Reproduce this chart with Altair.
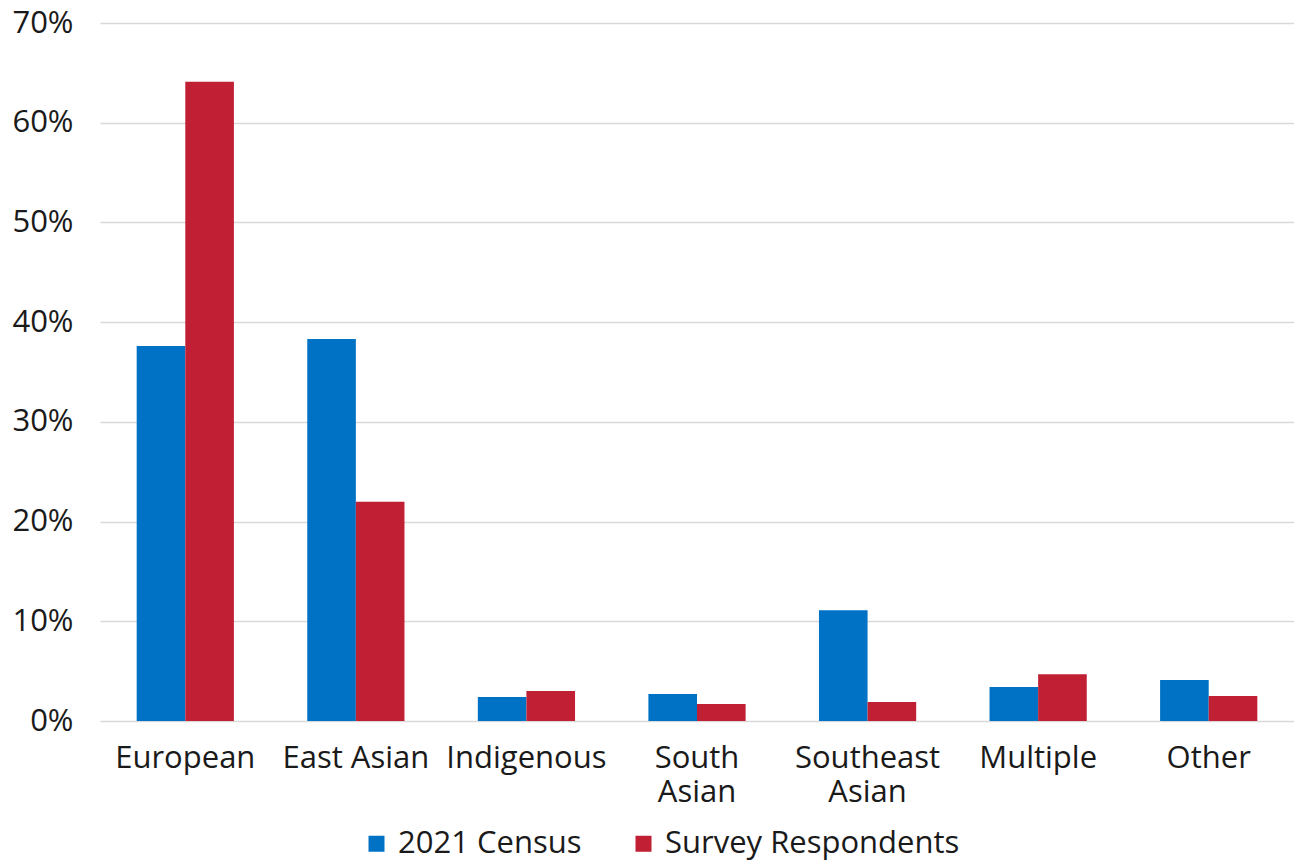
import altair as alt
import pandas as pd

# Share of population by ethnic origin: 2021 census vs. survey respondents (percent)
categories = ["European", "East Asian", "Indigenous", "South Asian",
              "Southeast Asian", "Multiple", "Other"]
census_2021 = [37.6, 38.3, 2.4, 2.7, 11.1, 3.4, 4.1]
survey_respondents = [64.1, 22.0, 3.0, 1.7, 1.9, 4.7, 2.5]

series_names = ["2021 Census", "Survey Respondents"]
series_colors = ["#0072C6", "#C11F33"]
y_ticks = [0.0, 0.1, 0.2, 0.3, 0.4, 0.5, 0.6, 0.7]

rows = []
for cat, c, s in zip(categories, census_2021, survey_respondents):
    rows.append({"group": cat, "series": series_names[0], "share": c / 100})
    rows.append({"group": cat, "series": series_names[1], "share": s / 100})
df = pd.DataFrame(rows)

FONT = "Open Sans"
TEXT = "#1a1a1a"
FS = 31

# two-word regional names wrap onto two lines
label_expr = ("datum.label == 'South Asian' ? ['South', 'Asian'] : "
              "datum.label == 'Southeast Asian' ? ['Southeast', 'Asian'] : datum.label")

chart = alt.Chart(df).mark_bar().encode(
    x=alt.X(
        "group:N",
        sort=categories,
        scale=alt.Scale(paddingInner=0.43, paddingOuter=0.215),
        axis=alt.Axis(
            title=None, labelAngle=0, ticks=False, domain=False, grid=False,
            labelFont=FONT, labelFontSize=FS, labelColor=TEXT,
            labelPadding=22, labelLineHeight=34, labelExpr=label_expr,
            labelOverlap=False, labelBaseline="top", labelLimit=0,
        ),
    ),
    xOffset=alt.XOffset("series:N", sort=series_names,
                        scale=alt.Scale(paddingInner=0, paddingOuter=0)),
    y=alt.Y(
        "share:Q",
        scale=alt.Scale(domain=[0, 0.7], nice=False),
        axis=alt.Axis(
            title=None, values=y_ticks, format=".0%", ticks=False, domain=False,
            grid=True, gridColor="#D9D9D9", gridWidth=1.5,
            labelFont=FONT, labelFontSize=FS, labelColor=TEXT, labelPadding=27,
        ),
    ),
    color=alt.Color(
        "series:N",
        scale=alt.Scale(domain=series_names, range=series_colors),
        legend=alt.Legend(
            title=None, orient="none", direction="horizontal",
            legendX=261, legendY=805, padding=0,
            symbolType="square", symbolSize=256, symbolStrokeWidth=0,
            labelFont=FONT, labelFontSize=FS, labelColor=TEXT, labelLimit=0,
            labelOffset=6, columnPadding=46,
        ),
    ),
).properties(
    width=1194,
    height=698,
    autosize=alt.AutoSizeParams(type="none"),
    padding={"left": 100, "top": 23, "right": 0, "bottom": 139},
).configure_view(stroke=None)

chart.save("out.html", embed_options={"renderer": "svg", "actions": False})
